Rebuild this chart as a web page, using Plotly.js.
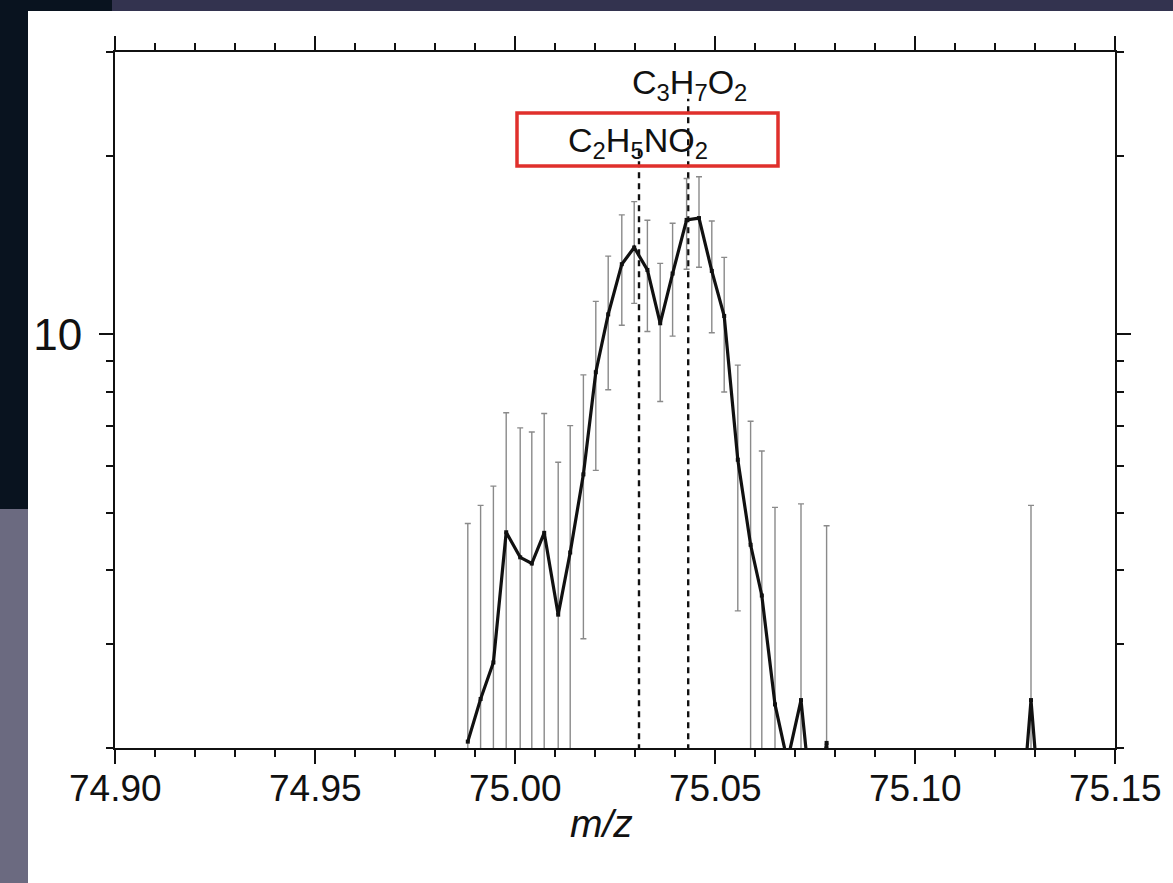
<!DOCTYPE html>
<html>
<head>
<meta charset="utf-8">
<script src="https://cdn.plot.ly/plotly-3.0.1.min.js"></script>
<style>html,body{margin:0;padding:0;background:#fff;}#chart{width:1173px;height:883px;}</style>
</head>
<body>
<div id="chart"></div>
<script>
// m/z positions of the measured points
const mz = [74.9882, 74.9914, 74.9946, 74.9978, 75.0013, 75.0042, 75.0073, 75.0108, 75.0138, 75.0171,
            75.0202, 75.0233, 75.0267, 75.0298, 75.0331, 75.0363, 75.0394, 75.0429, 75.0460, 75.0492,
            75.0523, 75.0557, 75.0589, 75.0617, 75.0650, 75.0681, 75.0715, 75.0746, 75.0779, 75.0811,
            75.1258, 75.1290, 75.1322];
// signal (log axis)
const signal = [2.05, 2.42, 2.79, 4.63, 4.20, 4.10, 4.62, 3.36, 4.28, 5.80,
                8.63, 10.81, 13.14, 14.02, 12.85, 10.44, 12.67, 15.61, 15.72, 12.80,
                10.74, 6.14, 4.41, 3.62, 2.37, 1.90, 2.41, 1.50, 2.04, 1.00,
                1.30, 2.41, 1.30];
// error bar half-widths
const errSD = [2.74, 2.72, 2.75, 2.74, 2.75, 2.74, 2.73, 2.72, 2.73, 2.74,
               2.74, 2.75, 2.78, 2.74, 2.74, 2.74, 2.74, 2.73, 2.74, 2.74,
               2.75, 2.73, 2.72, 2.73, 2.73, 0, 2.76, 0, 2.71, 0,
               0, 2.73, 0];
// reference formula positions
const refNames = ["C<sub>2</sub>H<sub>5</sub>NO<sub>2</sub>", "C<sub>3</sub>H<sub>7</sub>O<sub>2</sub>"];
const refMz = [75.0310, 75.0433];
const refTop = [20.5, 25.0];
// axis ticks
const xMajor = [74.90, 74.95, 75.00, 75.05, 75.10, 75.15];
const xMajorText = ["74.90", "74.95", "75.00", "75.05", "75.10", "75.15"];
const yMajor = [10];
const yMajorText = ["10"];
const yMinor = [2, 3, 4, 5, 6, 7, 8, 9, 20, 30];

const W = 1173, H = 883;
const L = 115, R = 58, T = 52, B = 135;
const pw = W - L - R, ph = H - T - B;
const px2paperX = p => (p - L) / pw;
const px2paperY = p => (H - B - p) / ph;

const FAM = "Liberation Sans, Arial, sans-serif";

const traces = [];
refMz.forEach((m, i) => {
  traces.push({
    x: [m, m], y: [1, refTop[i]], mode: "lines", type: "scatter",
    line: {color: "#111", width: 2.4, dash: "6px,5px"}, hoverinfo: "skip", showlegend: false
  });
});
traces.push({
  x: mz, y: signal, type: "scatter", mode: "lines+markers",
  line: {color: "#111", width: 3.2},
  marker: {symbol: "square", size: 4, color: "#111"},
  error_y: {type: "data", array: errSD, arrayminus: errSD, symmetric: false, visible: true,
            color: "#8a8a8a", thickness: 1.4, width: 3},
  showlegend: false
});

const shapes = [
  {type: "rect", xref: "paper", yref: "paper", layer: "below",
   x0: px2paperX(0), x1: px2paperX(1173), y0: px2paperY(0), y1: px2paperY(11),
   fillcolor: "#33334f", line: {width: 0}},
  {type: "rect", xref: "paper", yref: "paper", layer: "below",
   x0: px2paperX(0), x1: px2paperX(112), y0: px2paperY(0), y1: px2paperY(11),
   fillcolor: "#09131f", line: {width: 0}},
  {type: "rect", xref: "paper", yref: "paper", layer: "below",
   x0: px2paperX(0), x1: px2paperX(28), y0: px2paperY(0), y1: px2paperY(509),
   fillcolor: "#09131f", line: {width: 0}},
  {type: "rect", xref: "paper", yref: "paper", layer: "below",
   x0: px2paperX(0), x1: px2paperX(28), y0: px2paperY(509), y1: px2paperY(883),
   fillcolor: "#6b6a80", line: {width: 0}},
  {type: "rect", xref: "paper", yref: "paper", layer: "above",
   x0: px2paperX(517), x1: px2paperX(778), y0: px2paperY(166), y1: px2paperY(113),
   fillcolor: "rgba(0,0,0,0)", line: {color: "#e0302c", width: 3.5}}
];

const annotations = [
  {xref: "x", yref: "paper", x: refMz[0] - 0.0003, y: px2paperY(142), yanchor: "middle", xanchor: "center",
   text: refNames[0], showarrow: false, font: {family: FAM, size: 34, color: "#111"}},
  {xref: "x", yref: "paper", x: refMz[1] + 0.0003, y: px2paperY(84), yanchor: "middle", xanchor: "center",
   text: refNames[1], showarrow: false, font: {family: FAM, size: 34, color: "#111"}},
  {xref: "paper", yref: "paper", x: px2paperX(601), y: px2paperY(823), yanchor: "middle", xanchor: "center",
   text: "<i>m/z</i>", showarrow: false, font: {family: FAM, size: 39, color: "#111"}}
];
// x tick labels placed as annotations so their height matches the source
xMajor.forEach((v, i) => {
  annotations.push({xref: "x", yref: "paper", x: v, y: px2paperY(788), yanchor: "middle", xanchor: "center",
    text: xMajorText[i], showarrow: false, font: {family: FAM, size: 37, color: "#111"}});
});

const layout = {
  width: W, height: H,
  margin: {l: L, r: R, t: T, b: B, pad: 0},
  paper_bgcolor: "#ffffff", plot_bgcolor: "#ffffff",
  showlegend: false,
  xaxis: {
    range: [74.90, 75.15], tickmode: "array", tickvals: xMajor, showticklabels: false,
    ticks: "outside", ticklen: 14, tickwidth: 2, tickcolor: "#111",
    showline: true, linecolor: "#111", linewidth: 2, mirror: "ticks",
    showgrid: false, zeroline: false,
    minor: {dtick: 0.01, tick0: 74.90, ticks: "outside", ticklen: 7, tickwidth: 2, tickcolor: "#111", showgrid: false}
  },
  yaxis: {
    type: "log", range: [Math.log10(2), Math.log10(30)],
    tickmode: "array", tickvals: yMajor, ticktext: yMajorText,
    ticks: "outside", ticklen: 14, tickwidth: 2, tickcolor: "#111",
    showline: true, linecolor: "#111", linewidth: 2, mirror: "ticks",
    showgrid: false, zeroline: false, tickfont: {family: FAM, size: 44, color: "#111"}, ticklabelstandoff: 8,
    minor: {tickmode: "array", tickvals: yMinor, ticks: "outside", ticklen: 7, tickwidth: 2, tickcolor: "#111", showgrid: false}
  },
  shapes: shapes,
  annotations: annotations
};

Plotly.newPlot("chart", traces, layout, {displayModeBar: false, staticPlot: true});
</script>
</body>
</html>
